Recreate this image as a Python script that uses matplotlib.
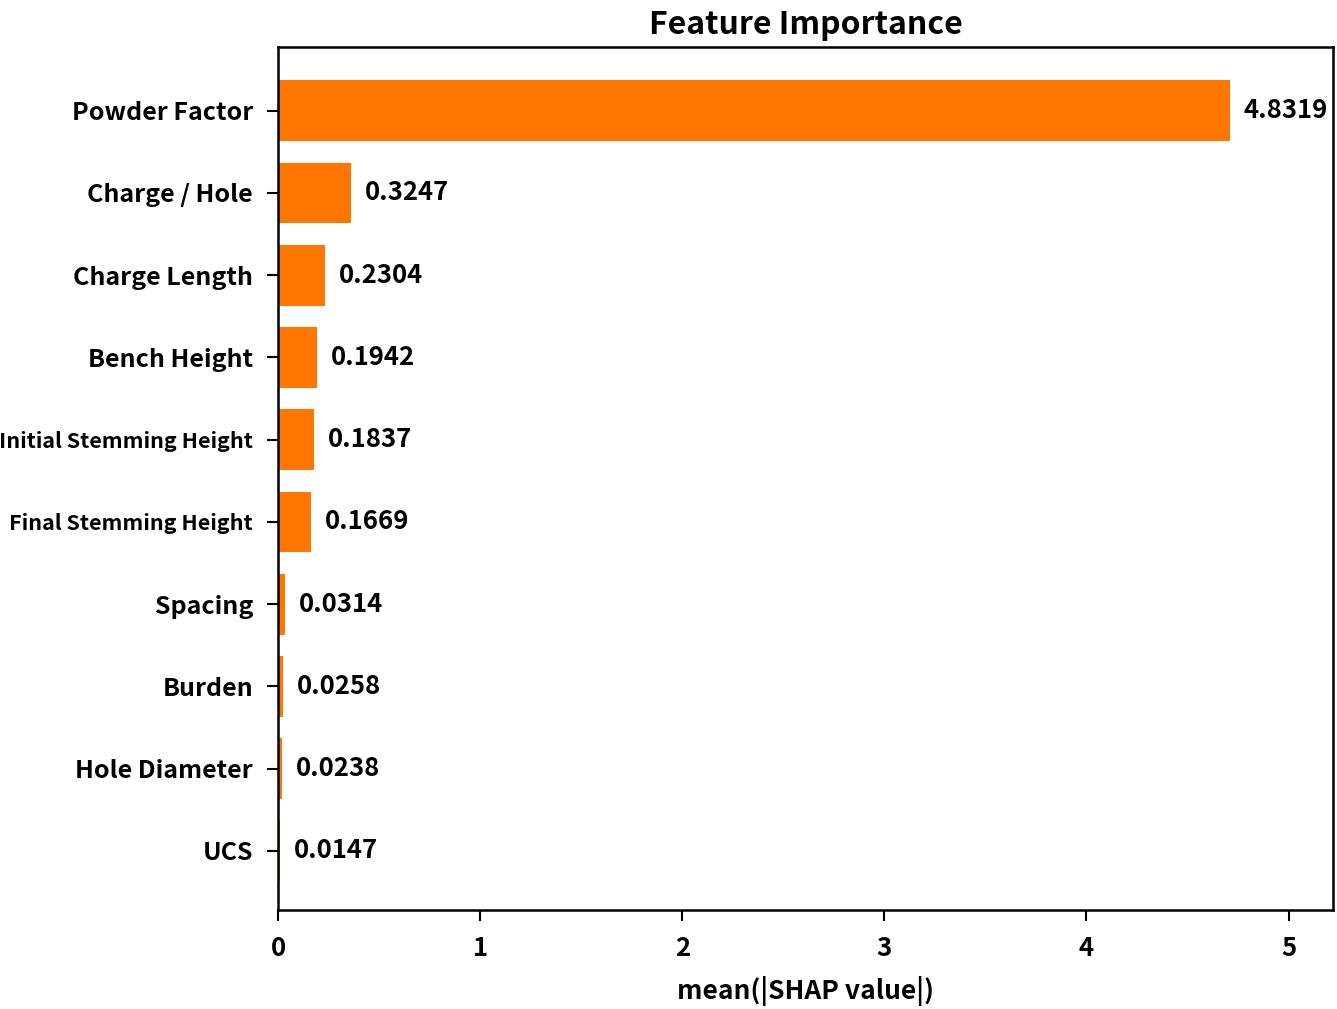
import matplotlib.pyplot as plt

features = ['UCS', 'Hole Diameter', 'Burden', 'Spacing', 'Final Stemming Height',
            'Initial Stemming Height', 'Bench Height', 'Charge Length',
            'Charge / Hole', 'Powder Factor']
# bar lengths as drawn in the picture
bar_len = [0.010, 0.020, 0.023, 0.035, 0.163, 0.178, 0.193, 0.233, 0.360, 4.71]
# numbers written next to the bars
value_txt = ['0.0147', '0.0238', '0.0258', '0.0314', '0.1669',
             '0.1837', '0.1942', '0.2304', '0.3247', '4.8319']

plt.rcParams['font.family'] = ['Noto Sans CJK SC', 'DejaVu Sans']
plt.rcParams['font.weight'] = 'bold'

fig = plt.figure(figsize=(13.37, 10.09), dpi=100)
ax = fig.add_axes([0.208, 0.098, 0.789, 0.855])

pos = list(range(len(features)))
ax.barh(pos, bar_len, height=0.74, color='#ff7600')

for p, v, t in zip(pos, bar_len, value_txt):
    ax.annotate(t, (v, p), xytext=(10, 0), textcoords='offset points',
                va='center', ha='left', fontsize=18.5, fontweight='bold')

ax.set_yticks(pos)
ax.set_yticklabels(features, fontsize=18, fontweight='bold')
# the two long names are squeezed in the original
for lab in ax.get_yticklabels():
    if 'Stemming' in lab.get_text():
        lab.set_fontsize(15.5)
ax.set_xticks([0, 1, 2, 3, 4, 5])
ax.tick_params(axis='x', labelsize=18.5, length=8, width=1.5, pad=10)
ax.tick_params(axis='y', length=8, width=1.5, pad=10)
ax.set_xlim(0, 5.22)
ax.set_ylim(-0.72, 9.77)

for s in ax.spines.values():
    s.set_linewidth(1.8)

ax.set_xlabel('mean(|SHAP value|)', fontsize=19, fontweight='bold', labelpad=10)
ax.set_title('Feature Importance', fontsize=23, fontweight='bold', pad=10)

plt.savefig('out.png', dpi=100)
